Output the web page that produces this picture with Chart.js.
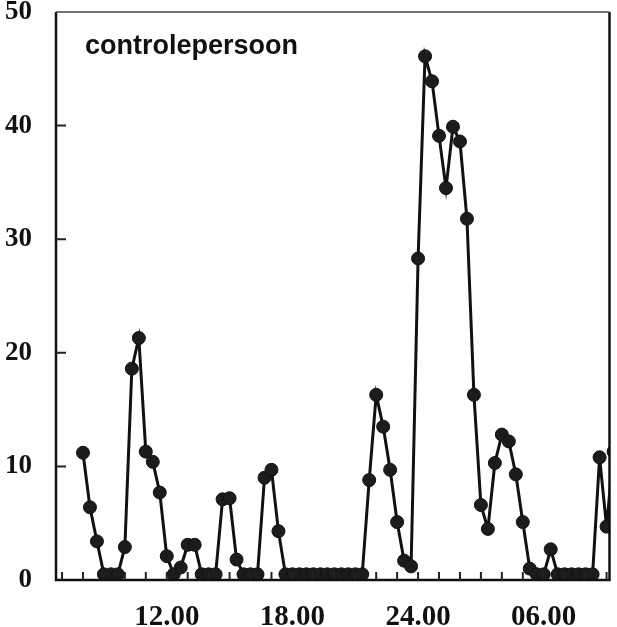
<!DOCTYPE html>
<html>
<head>
<meta charset="utf-8">
<script src="https://cdn.jsdelivr.net/npm/chart.js@4.4.1/dist/chart.umd.min.js"></script>
<style>
  body { margin: 0; background: #fff; }
  #wrap { width: 617px; height: 627px; }
</style>
</head>
<body>
<div id="wrap"><canvas id="activity"></canvas></div>
<script>
// activity counts every 20 minutes, starting 08.00
const startHour = 8;
const stepHours = 1 / 3;
const activity = [
  11.2, 6.4, 3.4, 0.5, 0.5, 0.5, 2.9, 18.6, 21.3, 11.3,
  10.4, 7.7, 2.1, 0.5, 1.1, 3.1, 3.1, 0.5, 0.5, 0.5,
  7.1, 7.2, 1.8, 0.5, 0.5, 0.5, 9.0, 9.7, 4.3, 0.5,
  0.5, 0.5, 0.5, 0.5, 0.5, 0.5, 0.5, 0.5, 0.5, 0.5,
  0.5, 8.8, 16.3, 13.5, 9.7, 5.1, 1.7, 1.2, 28.3, 46.1,
  43.9, 39.1, 34.5, 39.9, 38.6, 31.8, 16.3, 6.6, 4.5, 10.3,
  12.8, 12.2, 9.3, 5.1, 1.0, 0.5, 0.5, 2.7, 0.5, 0.5,
  0.5, 0.5, 0.5, 0.5, 10.8, 4.7, 11.3
];
const labelHours = [12, 18, 24, 30];
const hourLabels = ['12.00', '18.00', '24.00', '06.00'];
const yTicks = [0, 10, 20, 30, 40, 50];
const titleText = 'controlepersoon';

const points = activity.map((v, i) => ({ x: startHour + i * stepHours, y: v }));

// frame, inward tick marks and the label inside the plot
const framePlugin = {
  id: 'framePlugin',
  afterDraw(chart) {
    const ctx = chart.ctx;
    const a = chart.chartArea;
    const xs = chart.scales.x;
    const ys = chart.scales.y;
    ctx.save();
    ctx.strokeStyle = '#111';
    ctx.lineWidth = 2.5;
    ctx.beginPath();
    ctx.moveTo(a.left, a.top);
    ctx.lineTo(a.left, a.bottom);
    ctx.lineTo(a.right, a.bottom);
    ctx.lineTo(a.right, a.top);
    ctx.stroke();
    ctx.strokeStyle = '#444';
    ctx.lineWidth = 1.5;
    ctx.beginPath();
    ctx.moveTo(a.left, a.top);
    ctx.lineTo(a.right, a.top);
    ctx.stroke();

    ctx.strokeStyle = '#222';
    ctx.lineWidth = 2;
    ctx.beginPath();
    for (let h = Math.ceil(xs.min); h <= xs.max; h++) {
      const px = xs.getPixelForValue(h);
      ctx.moveTo(px, a.bottom);
      ctx.lineTo(px, a.bottom - 8);
    }
    yTicks.slice(1, -1).forEach(v => {
      const py = ys.getPixelForValue(v);
      ctx.moveTo(a.left, py);
      ctx.lineTo(a.left + 10, py);
    });
    ctx.stroke();

    ctx.fillStyle = '#111';
    ctx.font = 'bold 27px "Liberation Sans", Arial, sans-serif';
    ctx.textBaseline = 'alphabetic';
    ctx.fillText(titleText, a.left + 29, a.top + 42);
    ctx.restore();
  }
};

new Chart(document.getElementById('activity'), {
  type: 'line',
  data: {
    datasets: [{
      data: points,
      borderColor: '#111',
      borderWidth: 3,
      backgroundColor: '#1c1c1c',
      pointBackgroundColor: '#1c1c1c',
      pointBorderColor: '#111',
      pointRadius: 6.5,
      pointBorderWidth: 1,
      tension: 0
    }]
  },
  options: {
    responsive: true,
    maintainAspectRatio: false,
    animation: false,
    layout: { padding: { top: 12, right: 7, left: 0, bottom: 0 } },
    plugins: { legend: { display: false }, tooltip: { enabled: false } },
    scales: {
      x: {
        type: 'linear',
        min: 6.712,
        max: 33.14,
        grid: { display: false },
        border: { display: false },
        afterBuildTicks(scale) {
          scale.ticks = labelHours.map(h => ({ value: h }));
        },
        afterFit(scale) {
          scale.height = 47;
          scale.paddingLeft = 0;
          scale.paddingRight = 0;
        },
        ticks: {
          autoSkip: false,
          maxRotation: 0,
          padding: 12,
          color: '#111',
          font: { family: '"Liberation Serif", "Times New Roman", serif', weight: 'bold', size: 29 },
          callback: (v) => hourLabels[labelHours.indexOf(v)]
        }
      },
      y: {
        min: 0,
        max: 50,
        grid: { display: false },
        border: { display: false },
        afterBuildTicks(scale) {
          scale.ticks = yTicks.map(v => ({ value: v }));
        },
        afterFit(scale) {
          scale.width = 56;
          scale.paddingTop = 0;
          scale.paddingBottom = 0;
        },
        ticks: {
          padding: 16,
          color: '#111',
          font: { family: '"Liberation Serif", "Times New Roman", serif', weight: 'bold', size: 27 }
        }
      }
    }
  },
  plugins: [framePlugin]
});
</script>
</body>
</html>
